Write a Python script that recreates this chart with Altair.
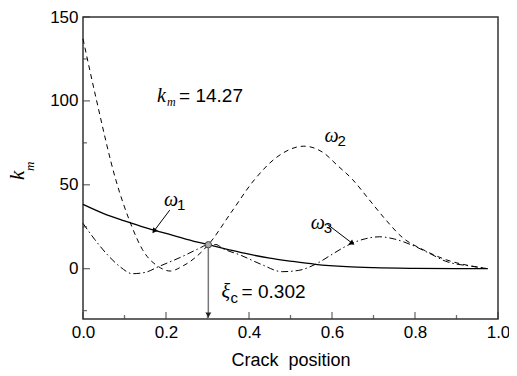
import altair as alt
import pandas as pd

# ---- data ----
w1_x = [0.0, 0.05, 0.1, 0.15, 0.2, 0.25, 0.302, 0.35, 0.4, 0.45, 0.5, 0.56, 0.635, 0.7, 0.8, 0.9, 0.975]
w1_y = [38.3, 32.8, 28.5, 24.5, 21.0, 17.5, 14.27, 11.4, 8.6, 6.3, 4.5, 2.6, 1.2, 0.6, 0.2, 0.05, 0.0]

w2_x = [0.0, 0.032, 0.079, 0.114, 0.143, 0.182, 0.21, 0.24, 0.27, 0.302, 0.357, 0.413, 0.47,
        0.532, 0.58, 0.611, 0.65, 0.69, 0.73, 0.77, 0.818, 0.873, 0.944, 0.975]
w2_y = [137.0, 101.0, 53.0, 27.4, 11.5, 1.2, -1.4, 1.5, 6.5, 14.27, 33.5, 53.0, 67.0,
        73.0, 69.0, 62.0, 53.0, 41.0, 29.0, 18.5, 11.5, 5.5, 1.2, 0.0]

w3_x = [0.0, 0.028, 0.06, 0.09, 0.119, 0.15, 0.182, 0.238, 0.275, 0.302, 0.32, 0.337, 0.381,
        0.43, 0.48, 0.52, 0.56, 0.6, 0.627, 0.647, 0.68, 0.714, 0.75, 0.794, 0.84, 0.873, 0.944, 0.975]
w3_y = [27.0, 17.5, 8.0, 1.0, -3.0, -2.2, 1.2, 7.1, 11.5, 14.27, 14.4, 12.0, 7.9,
        2.5, -1.8, -1.0, 2.6, 8.5, 12.5, 15.0, 17.8, 19.0, 17.7, 13.9, 8.5, 4.5, 1.2, 0.0]

x_major = [0.0, 0.2, 0.4, 0.6, 0.8, 1.0]
x_minor = [0.1, 0.3, 0.5, 0.7, 0.9]
y_major = [0, 50, 100, 150]
y_minor = [-25, 25, 75, 125]
x_domain = [0.0, 1.0]
y_domain = [-30, 150]

xi_c = 0.302
k_m = 14.27

# annotation anchors (data coordinates)
km_pos = (0.1785, 103.0)
w1_pos = (0.195, 40.7)
w2_pos = (0.582, 78.8)
w3_pos = (0.549, 27.0)
xi_pos = (0.334, -14.2)
ytitle_k = (-0.156, 55.6)
ytitle_m = (-0.128, 61.0)
w1_arrow = (0.209, 34.9, 0.171, 22.4)
w3_arrow = (0.589, 26.4, 0.649, 15.1)

W, H = 415, 302
SANS = "Liberation Sans"
SERIF = "Liberation Serif"
AX = "#333333"

xs = alt.Scale(domain=x_domain, nice=False, zero=False)
ys = alt.Scale(domain=y_domain, nice=False, zero=False)

x_axis = alt.Axis(values=x_major, format=".1f", title="Crack\u00a0 position", domain=False, ticks=False,
                  grid=False, labelFont=SANS, labelFontSize=17, labelColor="black", labelPadding=5,
                  labelFlush=False, titleFont=SANS, titleFontSize=18, titleFontWeight="normal",
                  titleColor="black", titlePadding=11)
y_axis = alt.Axis(values=y_major, format="d", title=None, domain=False, ticks=False, grid=False,
                  labelFont=SANS, labelFontSize=17, labelColor="black", labelPadding=5)


def X(field="x"):
    return alt.X(f"{field}:Q", scale=xs, axis=x_axis)


def Y(field="y"):
    return alt.Y(f"{field}:Q", scale=ys, axis=y_axis)


def curve(xv, yv, dash, sw):
    df = pd.DataFrame({"x": xv, "y": yv})
    kw = dict(color="black", strokeWidth=sw, interpolate="monotone")
    if dash:
        kw["strokeDash"] = dash
    return alt.Chart(df).mark_line(**kw).encode(x=X(), y=Y())


layers = []
layers.append(curve(w1_x, w1_y, None, 1.3))
layers.append(curve(w2_x, w2_y, [5, 4], 1.0))
layers.append(curve(w3_x, w3_y, [7, 3, 1.5, 3], 1.0))

# inward ticks
def ticks(vals, axis, size):
    if axis == "x":
        df = pd.DataFrame({"x": vals, "y": [y_domain[0]] * len(vals)})
        m = alt.Chart(df).mark_tick(orient="vertical", size=size, thickness=1.3, color=AX, yOffset=-size / 2)
    else:
        df = pd.DataFrame({"x": [x_domain[0]] * len(vals), "y": vals})
        m = alt.Chart(df).mark_tick(orient="horizontal", size=size, thickness=1.3, color=AX, xOffset=size / 2)
    return m.encode(x=X(), y=Y())

layers += [ticks(x_major, "x", 7), ticks(x_minor, "x", 4), ticks(y_major, "y", 7), ticks(y_minor, "y", 4)]

# vertical arrow at xi_c
vdf = pd.DataFrame({"x": [xi_c], "y": [k_m], "y2": [y_domain[0]]})
layers.append(alt.Chart(vdf).mark_rule(color="#777777", strokeWidth=1.5).encode(
    x=X(), y=Y(), y2="y2:Q"))
layers.append(alt.Chart(vdf).mark_point(shape="triangle-down", size=35, filled=True, color="#222222",
                                        opacity=1, yOffset=-4).encode(x=X(), y=Y("y2")))
layers.append(alt.Chart(vdf).mark_point(shape="circle", size=40, fill="#aaaaaa", stroke="#444444",
                                        strokeWidth=1, opacity=1, fillOpacity=1).encode(x=X(), y=Y()))

# leader arrows for omega labels
for (x1, y1, x2, y2), ang in [(w1_arrow, 217), (w3_arrow, 127)]:
    adf = pd.DataFrame({"x": [x1], "y": [y1], "x2": [x2], "y2": [y2]})
    layers.append(alt.Chart(adf).mark_rule(color="black", strokeWidth=1).encode(
        x=X(), y=Y(), x2="x2:Q", y2="y2:Q"))
    layers.append(alt.Chart(adf).mark_point(shape="triangle-up", size=35, filled=True, color="black",
                                            opacity=1, angle=ang).encode(x=X("x2"), y=Y("y2")))


def txt(pos, text, font, size, style="normal", dx=0, dy=0, angle=0, align="left"):
    df = pd.DataFrame({"x": [pos[0]], "y": [pos[1]], "t": [text]})
    kw = dict(font=font, fontSize=size, fontStyle=style, color="black", align=align,
              baseline="middle", dx=dx, dy=dy)
    if angle:
        kw["angle"] = angle
    return alt.Chart(df).mark_text(**kw).encode(x=X(), y=Y(), text="t:N")


# k_m = 14.27
layers.append(txt(km_pos, "k", SERIF, 20, "italic"))
layers.append(txt(km_pos, "m", SERIF, 12, "italic", dx=10, dy=6))
layers.append(txt(km_pos, "= 14.27", SANS, 19, dx=22))
# omega labels
for pos, sub in [(w1_pos, "1"), (w2_pos, "2"), (w3_pos, "3")]:
    layers.append(txt(pos, "\u03c9", SERIF, 20, "italic"))
    layers.append(txt(pos, sub, SANS, 15, dx=13, dy=5))
# xi_c = 0.302
layers.append(txt(xi_pos, "\u03be", SERIF, 20, "italic"))
layers.append(txt(xi_pos, "c", SANS, 15, dx=9, dy=6))
layers.append(txt(xi_pos, "= 0.302", SANS, 19, dx=20))
# y title k_m (rotated)
layers.append(txt(ytitle_k, "k", SERIF, 21, "italic", angle=270, align="center"))
layers.append(txt(ytitle_m, "m", SERIF, 13, "italic", angle=270, align="center"))

chart = alt.layer(*layers).properties(
    width=W, height=H,
    autosize=alt.AutoSizeParams(type="none"),
    padding={"left": 75, "top": 9, "right": 11, "bottom": 54},
).configure(background="white").configure_view(stroke=AX, strokeWidth=1.5)

chart.save("out.html", embed_options={"renderer": "svg", "actions": False})
